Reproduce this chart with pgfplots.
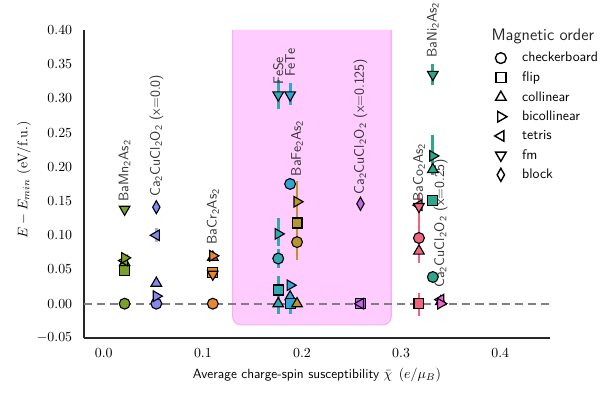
\documentclass[border=0pt]{standalone}
\usepackage{pgfplots}
\pgfplotsset{compat=1.18}
\definecolor{cMn}{RGB}{122,160,42}
\definecolor{cCuA}{RGB}{130,138,238}
\definecolor{cCr}{RGB}{232,136,46}
\definecolor{cFeSe}{RGB}{52,168,178}
\definecolor{cFeTe}{RGB}{48,166,214}
\definecolor{cFeB}{RGB}{184,150,46}
\definecolor{cCuB}{RGB}{200,100,235}
\definecolor{cCo}{RGB}{242,100,125}
\definecolor{cNi}{RGB}{44,166,140}
\definecolor{cCuC}{RGB}{238,100,210}
\definecolor{pinkfill}{RGB}{255,204,255}
\definecolor{pinkedge}{RGB}{248,175,248}
\definecolor{zeroline}{RGB}{128,128,128}
\newcommand{\sub}[1]{\textsubscript{#1}}
\pgfplotsset{
  mk/.style={only marks, forget plot, mark options={draw=black, fill=#1, line width=0.8pt}},
  ci/.style={mark=*, mark size=3.9pt},
  sq/.style={mark=square*, mark size=3.6pt},
  tu/.style={mark=triangle*, mark size=4.4pt},
  tr/.style={mark=triangle*, mark size=4.4pt, every mark/.append style={rotate=-90}},
  tl/.style={mark=triangle*, mark size=4.4pt, every mark/.append style={rotate=90}},
  td/.style={mark=triangle*, mark size=4.4pt, every mark/.append style={rotate=180}},
  dm/.style={mark=diamond*, mark size=4.7pt, every mark/.append style={xscale=0.75}},
  eb/.style={forget plot, no marks, line width=2pt, draw=#1},
}
\tikzset{lbl/.style={rotate=90, anchor=west, font=\sffamily, text=black!80, inner sep=0pt}}
\begin{document}
\begin{tikzpicture}
\begin{axis}[
  scale only axis, width=335.5pt, height=221.8pt,
  xmin=-0.02, xmax=0.45, ymin=-0.05, ymax=0.40,
  axis x line*=bottom, axis y line*=left,
  axis line style={-, draw=black!85, line width=1pt},
  major tick length=0pt,
  scaled ticks=false,
  xtick={0,0.1,0.2,0.3,0.4},
  ytick={-0.05,0,0.05,0.1,0.15,0.2,0.25,0.3,0.35,0.4},
  xticklabel style={/pgf/number format/.cd, fixed, fixed zerofill, precision=1, /tikz/.cd, yshift=-4pt},
  yticklabel style={/pgf/number format/.cd, fixed, fixed zerofill, precision=2, /tikz/.cd, xshift=-5pt},
  xlabel={\sffamily Average charge-spin susceptibility $\bar{\chi}$\hspace{1.5pt} $(e/\mu_B)$},
  ylabel={$E - E_{min}$ (eV/f.u.)},
  xlabel style={at={(axis description cs:0.5,0)}, anchor=center, yshift=-26.5pt, inner sep=0.5pt, font=\fontsize{9.6}{11}\selectfont},
  ylabel style={at={(axis description cs:-0.129,0.513)}, anchor=center},
  clip=false,
  legend style={draw=none, fill=none, at={(axis cs:0.390,0.376)}, anchor=north west,
    font=\sffamily, row sep=1.6pt, /tikz/every odd column/.append style={column sep=9pt}},
  legend cell align=left,
]
% shaded region
\addplot[forget plot, draw=pinkedge, fill=pinkfill, line width=0.8pt, rounded corners=6pt]
  coordinates {(0.130,0.40) (0.130,-0.031) (0.290,-0.031) (0.290,0.40)};
% zero line
\addplot[forget plot, no marks, draw=zeroline, line width=1.5pt, dash pattern=on 5.8pt off 3.6pt]
  coordinates {(-0.02,0) (0.45,0)};
% error bars
\addplot[eb=cCuA!70] coordinates {(0.053,0.090) (0.053,0.110)};
\addplot[eb=cFeSe] coordinates {(0.176,0.285) (0.176,0.327)};
\addplot[eb=cFeSe] coordinates {(0.176,0.085) (0.176,0.125)};
\addplot[eb=cFeSe] coordinates {(0.176,0.052) (0.176,0.080)};
\addplot[eb=cFeSe] coordinates {(0.176,-0.015) (0.176,0.040)};
\addplot[eb=cFeTe] coordinates {(0.188,0.290) (0.188,0.322)};
\addplot[eb=cFeTe] coordinates {(0.188,-0.015) (0.188,0.012)};
\addplot[eb=cFeB] coordinates {(0.195,0.064) (0.195,0.180)};
\addplot[eb=cCo] coordinates {(0.318,0.060) (0.318,0.160)};
\addplot[eb=cCo] coordinates {(0.318,-0.018) (0.318,0.016)};
\addplot[eb=cNi] coordinates {(0.332,0.320) (0.332,0.350)};
\addplot[eb=cNi] coordinates {(0.332,0.188) (0.332,0.246)};
% BaMn2As2
\addplot[mk=cMn, ci] coordinates {(0.021,0.000)};
\addplot[mk=cMn, sq] coordinates {(0.021,0.049)};
\addplot[mk=cMn, tu] coordinates {(0.021,0.060)};
\addplot[mk=cMn, tl] coordinates {(0.021,0.063)};
\addplot[mk=cMn, tr] coordinates {(0.021,0.067)};
\addplot[mk=cMn, td] coordinates {(0.021,0.138)};
% Ca2CuCl2O2 x=0.0
\addplot[mk=cCuA, ci] coordinates {(0.053,0.000)};
\addplot[mk=cCuA, tr] coordinates {(0.053,0.011)};
\addplot[mk=cCuA, tu] coordinates {(0.053,0.030)};
\addplot[mk=cCuA, tl] coordinates {(0.053,0.100)};
\addplot[mk=cCuA, dm] coordinates {(0.053,0.141)};
% BaCr2As2
\addplot[mk=cCr, ci] coordinates {(0.110,0.000)};
\addplot[mk=cCr, sq] coordinates {(0.110,0.045)};
\addplot[mk=cCr, td] coordinates {(0.110,0.043)};
\addplot[mk=cCr, tu] coordinates {(0.110,0.068)};
\addplot[mk=cCr, tr] coordinates {(0.110,0.070)};
% FeSe
\addplot[mk=cFeSe, td] coordinates {(0.176,0.305)};
\addplot[mk=cFeSe, tr] coordinates {(0.176,0.102)};
\addplot[mk=cFeSe, ci] coordinates {(0.176,0.066)};
\addplot[mk=cFeSe, sq] coordinates {(0.176,0.020)};
\addplot[mk=cFeSe, tu] coordinates {(0.176,0.000)};
% FeTe
\addplot[mk=cFeTe, td] coordinates {(0.188,0.305)};
\addplot[mk=cFeTe, ci] coordinates {(0.188,0.175)};
\addplot[mk=cFeTe, tr] coordinates {(0.188,0.027)};
\addplot[mk=cFeTe, tu] coordinates {(0.188,0.010)};
\addplot[mk=cFeTe, sq] coordinates {(0.188,0.000)};
% BaFe2As2
\addplot[mk=cFeB, tr] coordinates {(0.195,0.149)};
\addplot[mk=cFeB, sq] coordinates {(0.195,0.118)};
\addplot[mk=cFeB, ci] coordinates {(0.195,0.090)};
\addplot[mk=cFeB, tu] coordinates {(0.195,0.000)};
% Ca2CuCl2O2 x=0.125
\addplot[mk=cCuB, dm] coordinates {(0.259,0.146)};
\addplot[mk=cCuB, sq] coordinates {(0.259,0.000)};
\addplot[mk=cCuB, tl] coordinates {(0.259,0.000)};
% BaCo2As2
\addplot[mk=cCo, sq] coordinates {(0.318,0.000)};
\addplot[mk=cCo, tu] coordinates {(0.318,0.077)};
\addplot[mk=cCo, ci] coordinates {(0.318,0.096)};
\addplot[mk=cCo, tl] coordinates {(0.318,0.144)};
\addplot[mk=cCo, td] coordinates {(0.318,0.142)};
% BaNi2As2
\addplot[mk=cNi, td] coordinates {(0.332,0.335)};
\addplot[mk=cNi, tr] coordinates {(0.332,0.216)};
\addplot[mk=cNi, tu] coordinates {(0.332,0.196)};
\addplot[mk=cNi, sq] coordinates {(0.332,0.151)};
\addplot[mk=cNi, ci] coordinates {(0.332,0.039)};
% Ca2CuCl2O2 x=0.25
\addplot[mk=cCuC, tu] coordinates {(0.340,0.003)};
\addplot[mk=cCuC, tl] coordinates {(0.340,0.006)};
\addplot[mk=cCuC, tr] coordinates {(0.340,0.000)};
% labels
\node[lbl, xshift=2pt] at (axis cs:0.021,0.145) {BaMn\sub{2}As\sub{2}};
\node[lbl, xshift=3pt] at (axis cs:0.053,0.150) {Ca\sub{2}CuCl\sub{2}O\sub{2} (x=0.0)};
\node[lbl, xshift=3pt] at (axis cs:0.110,0.080) {BaCr\sub{2}As\sub{2}};
\node[lbl, xshift=2pt] at (axis cs:0.176,0.316) {FeSe};
\node[lbl, xshift=3.5pt] at (axis cs:0.188,0.324) {FeTe};
\node[lbl, xshift=2pt] at (axis cs:0.195,0.182) {BaFe\sub{2}As\sub{2}};
\node[lbl, xshift=3.5pt] at (axis cs:0.259,0.152) {Ca\sub{2}CuCl\sub{2}O\sub{2} (x=0.125)};
\node[lbl, xshift=3pt] at (axis cs:0.318,0.143) {BaCo\sub{2}As\sub{2}};
\node[lbl, xshift=5.5pt] at (axis cs:0.340,0.012) {Ca\sub{2}CuCl\sub{2}O\sub{2} (x=0.25)};
\node[lbl, xshift=3pt] at (axis cs:0.332,0.353) {BaNi\sub{2}As\sub{2}};
% legend
\node[anchor=base west, font=\sffamily\fontsize{12}{14}\selectfont, text=black!85, inner sep=0pt] at (axis cs:0.391,0.385) {Magnetic order};
\addlegendimage{only marks, mark=o, mark size=3.9pt, line width=1pt, black}
\addlegendentry{checkerboard}
\addlegendimage{only marks, mark=square, mark size=3.6pt, line width=1pt, black}
\addlegendentry{flip}
\addlegendimage{only marks, mark=triangle, mark size=4.4pt, line width=1pt, black}
\addlegendentry{collinear}
\addlegendimage{only marks, mark=triangle, mark size=4.4pt, line width=1pt, black, mark options={rotate=-90}}
\addlegendentry{bicollinear}
\addlegendimage{only marks, mark=triangle, mark size=4.4pt, line width=1pt, black, mark options={rotate=90}}
\addlegendentry{tetris}
\addlegendimage{only marks, mark=triangle, mark size=4.4pt, line width=1pt, black, mark options={rotate=180}}
\addlegendentry{fm}
\addlegendimage{only marks, mark=diamond, mark size=4.7pt, line width=1pt, black, mark options={xscale=0.75}}
\addlegendentry{block}
\end{axis}
\pgfresetboundingbox
\path[use as bounding box] (current axis.south west) ++(-60.5pt,-39.6pt) rectangle ++(443pt,283pt);
\end{tikzpicture}
\end{document}
